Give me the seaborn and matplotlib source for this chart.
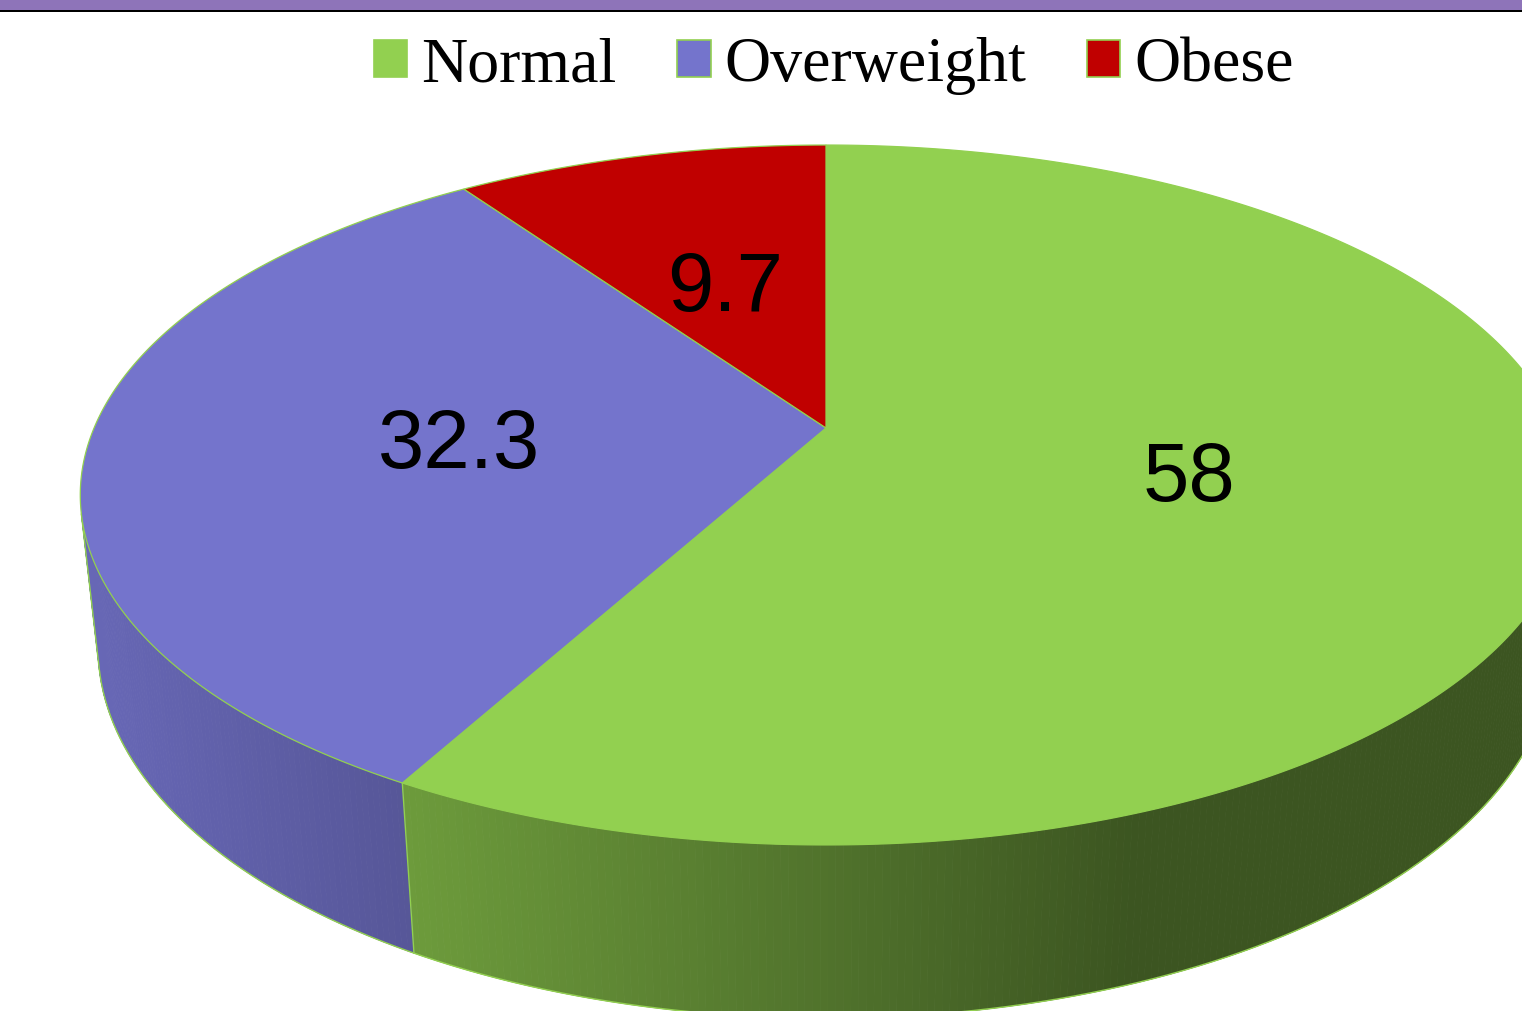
import numpy as np
import matplotlib
matplotlib.use("Agg")
import matplotlib.pyplot as plt
from matplotlib.patches import Polygon, Patch, Rectangle
import seaborn as sns

# --- data -------------------------------------------------------------
categories = ["Normal", "Overweight", "Obese"]
values = [58, 32.3, 9.7]
slice_colors = ["#92D050", "#7474CC", "#C00000"]
edge_color = "#92D050"

sns.set_theme(style="white", rc={"text.color": "black"})
palette = sns.color_palette(slice_colors)
plt.rcParams["font.family"] = ["Liberation Sans", "DejaVu Sans"]

W, H = 1522, 1011
fig = plt.figure(figsize=(W / 100, H / 100), dpi=100)
ax = fig.add_axes([0, 0, 1, 1])
ax.set_xlim(0, W)
ax.set_ylim(H, 0)
ax.axis("off")

# --- perspective camera for a unit-radius disc ------------------------
CX, CY = 826.0, 428.0          # screen position of the pie centre
FOCAL = 3394.0
DIST = 4.637
SIN_T, COS_T = 0.4606, np.sqrt(1 - 0.4606 ** 2)
THICK = 0.237                   # disc thickness in radius units


def project(X, Y, Z):
    yc = Y * COS_T + Z * SIN_T
    zc = -Y * SIN_T + Z * COS_T + DIST
    return CX + FOCAL * X / zc, CY - FOCAL * yc / zc


def rim(theta_deg, Y=0.0, r=1.0):
    t = np.radians(theta_deg)
    return project(r * np.sin(t), Y + 0 * t, r * np.cos(t))


# slice angles, clockwise from 12 o'clock
fractions = np.array(values) / np.sum(values)
ends = np.cumsum(fractions) * 360.0
starts = np.concatenate([[0.0], ends[:-1]])

# visible part of the side wall: where the wall faces the camera
z_limit = -1.0 / (DIST * COS_T)
vis_lo = np.degrees(np.arccos(z_limit))          # ~104 deg
vis_hi = 360.0 - vis_lo                           # ~256 deg


def shade(px):
    return float(np.clip(0.885 - 0.00046 * (px - 100.0), 0.41, 0.9))


# side wall, drawn as thin shaded strips
for a0, a1, col in zip(starts, ends, palette):
    lo, hi = max(a0, vis_lo), min(a1, vis_hi)
    if lo >= hi:
        continue
    steps = np.linspace(lo, hi, int((hi - lo) / 0.5) + 2)
    base = np.array(col)
    for s0, s1 in zip(steps[:-1], steps[1:]):
        tx0, ty0 = rim(s0)
        tx1, ty1 = rim(s1)
        bx1, by1 = rim(s1, -THICK)
        bx0, by0 = rim(s0, -THICK)
        fc = base * shade((tx0 + tx1) / 2)
        ax.add_patch(Polygon([(tx0, ty0), (tx1, ty1), (bx1, by1), (bx0, by0)],
                             closed=True, facecolor=fc, edgecolor=fc,
                             linewidth=0.6, zorder=1))

# outline of the side wall
arc = np.linspace(vis_lo, vis_hi, 400)
bx, by = rim(arc, -THICK)
ax.plot(bx, by, color=edge_color, lw=1.0, zorder=2)
for ang in [vis_lo, vis_hi] + [a for a in starts[1:] if vis_lo < a < vis_hi]:
    x0, y0 = rim(ang)
    x1, y1 = rim(ang, -THICK)
    ax.plot([x0, x1], [y0, y1], color=edge_color, lw=1.0, zorder=2)

# top faces
for a0, a1, col in zip(starts, ends, palette):
    ang = np.linspace(a0, a1, max(int((a1 - a0) * 2), 4))
    xs, ys = rim(ang)
    pts = np.column_stack([np.r_[CX, xs], np.r_[CY, ys]])
    ax.add_patch(Polygon(pts, closed=True, facecolor=col,
                         edgecolor=edge_color, linewidth=0.9, zorder=3))

# value labels at half radius along each slice's mid angle
for a0, a1, v in zip(starts, ends, values):
    mid = (a0 + a1) / 2
    lx, ly = rim(mid, 0.0, 0.5)
    ax.text(lx, ly, f"{v:g}", fontsize=60, color="black",
            ha="center", va="center_baseline", zorder=5,
            family=["Liberation Sans", "DejaVu Sans"])

# legend
handles = [Patch(facecolor=c, edgecolor=edge_color, linewidth=1.2)
           for c in palette]
ax.legend(handles, categories, loc="center", ncol=3, frameon=False,
          bbox_to_anchor=(834, 66), bbox_transform=ax.transData,
          prop={"family": ["Liberation Serif", "DejaVu Serif"], "size": 46},
          labelcolor="black",
          handlelength=0.52, handleheight=0.52, handletextpad=0.22,
          columnspacing=0.95, borderpad=0.0, borderaxespad=0.0)

# header band
fig.add_artist(Rectangle((0, 1 - 9.5 / H), 1, 9.5 / H,
                         transform=fig.transFigure, facecolor="#8E74B9",
                         edgecolor="none", zorder=10))
fig.add_artist(Rectangle((0, 1 - 12.0 / H), 1, 2.5 / H,
                         transform=fig.transFigure, facecolor="black",
                         edgecolor="none", zorder=10))

fig.savefig("out.png", dpi=100, facecolor="white")
